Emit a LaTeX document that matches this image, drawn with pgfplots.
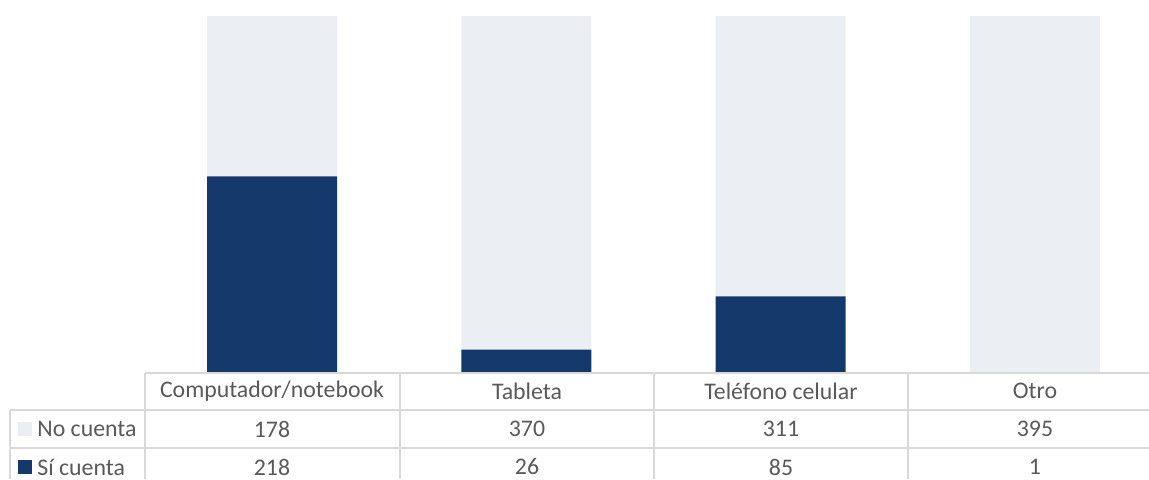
\documentclass[border=0pt]{standalone}
\usepackage{fontspec}
\setmainfont{Carlito}
\usepackage{pgfplots}
\pgfplotsset{compat=1.18}
\definecolor{navy}{HTML}{14386A}
\definecolor{pale}{HTML}{EBEEF3}
\definecolor{txt}{HTML}{595959}
\definecolor{gridc}{HTML}{D9D9D9}

\begin{document}
\fontsize{11.9}{14}\selectfont
\begin{tikzpicture}
\begin{axis}[
    at={(72.5pt,-186.5pt)}, anchor=south west,
    scale only axis,
    width=508.5pt, height=178.5pt,
    xmin=-0.5, xmax=3.5,
    ymin=0, ymax=396,
    axis lines=none,
    ybar stacked,
    bar width=65pt,
    bar shift=0pt,
    clip=false,
]
\addplot[fill=navy, draw=none] coordinates {(0,218) (1,26) (2,85) (3,1)};
\addplot[fill=pale, draw=none] coordinates {(0,178) (1,370) (2,311) (3,395)};
\end{axis}

% data table below the plot area (pixel units, origin top left)
\begin{scope}[x=0.5pt, y=-0.5pt, every node/.style={text=txt, inner sep=0pt}]
\draw[gridc, line width=0.75pt] (145,373) -- (1149,373);
\draw[gridc, line width=0.75pt] (10,410) -- (1149,410);
\draw[gridc, line width=0.75pt] (10,448) -- (1149,448);
\draw[gridc, line width=0.75pt] (10,410) -- (10,479);
\foreach \xx in {145,400,654,908}
  \draw[gridc, line width=0.75pt] (\xx,373) -- (\xx,479);
\node at (272,391) {Computador/notebook};
\node at (527,391) {Tableta};
\node at (781,391) {Teléfono celular};
\node at (1035,391) {Otro};
\fill[pale] (18,422) rectangle (32,436);
\node[anchor=west] at (37,429) {No cuenta};
\fill[navy] (18,460) rectangle (32,474);
\node[anchor=west] at (37,467) {Sí cuenta};
\node at (272,429) {178};
\node at (527,429) {370};
\node at (781,429) {311};
\node at (1035,429) {395};
\node at (272,467) {218};
\node at (527,467) {26};
\node at (781,467) {85};
\node at (1035,467) {1};
\end{scope}
\pgfresetboundingbox
\useasboundingbox (0,0) rectangle (574.5pt,-239.5pt);
\end{tikzpicture}
\end{document}
